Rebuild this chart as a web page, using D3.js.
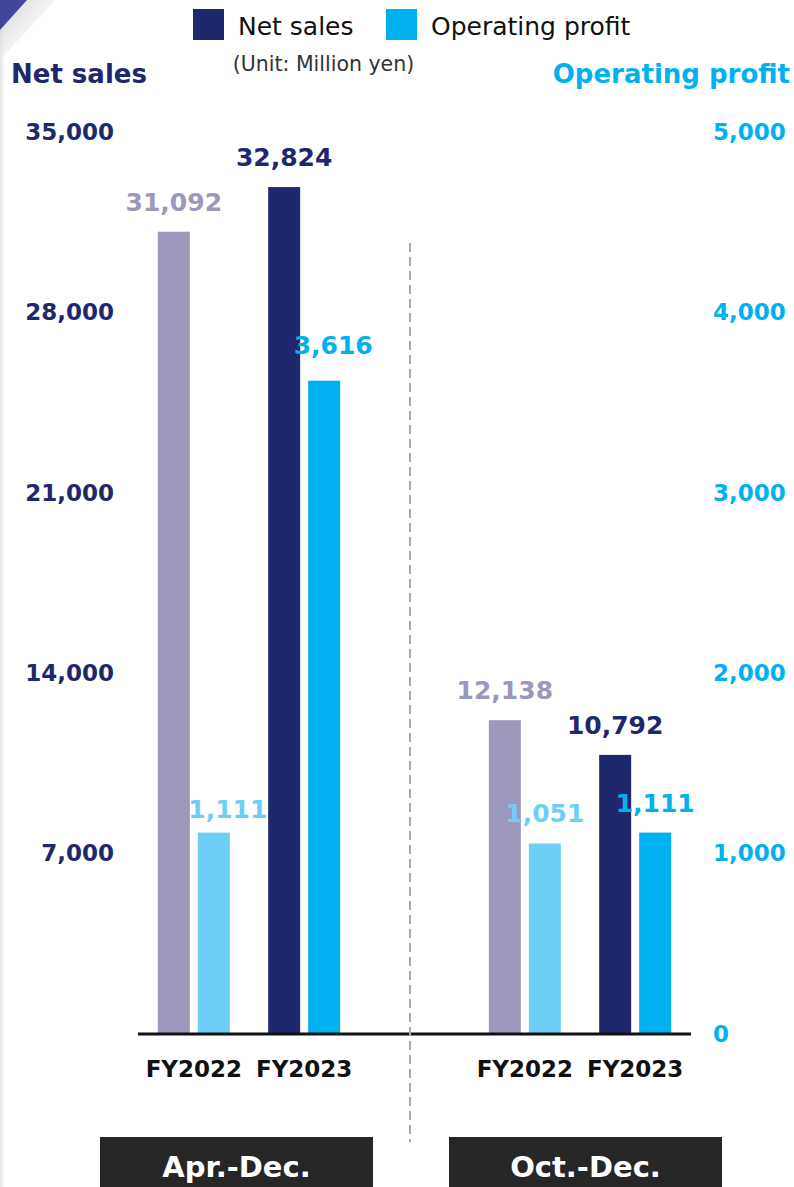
<!DOCTYPE html>
<html>
<head>
<meta charset="utf-8">
<script src="https://cdn.jsdelivr.net/npm/d3@7/dist/d3.min.js"></script>
<style>
  html, body { margin: 0; padding: 0; background: #fff; }
  svg { display: block; font-family: "DejaVu Sans", Verdana, sans-serif; }
</style>
</head>
<body>
<svg id="chart" width="794" height="1187"></svg>
<script>
// Periods, fiscal years and values (million yen)
const periods = ["Apr.-Dec.", "Oct.-Dec."];
const years = ["FY2022", "FY2023"];
const netSales = [[31092, 32824], [12138, 10792]];
const operatingProfit = [[1111, 3616], [1051, 1111]];
const netSalesTicks = [7000, 14000, 21000, 28000, 35000];
const profitTicks = [0, 1000, 2000, 3000, 4000, 5000];

const colors = {
  net: { FY2022: "#9b97bd", FY2023: "#1f276d" },
  op:  { FY2022: "#6ecff6", FY2023: "#00b1ef" }
};
const navy = "#1f276d";
const cyan = "#00b1ef";

const svg = d3.select("#chart");
const W = 794, H = 1187;
const baseY = 1033, topY = 131;

// Page decoration: left edge shade and corner fold
const defs = svg.append("defs");
const edge = defs.append("linearGradient").attr("id", "edge").attr("x1", 0).attr("x2", 1);
edge.append("stop").attr("offset", 0).attr("stop-color", "#e0e0e0");
edge.append("stop").attr("offset", 1).attr("stop-color", "#ffffff").attr("stop-opacity", 0);
svg.append("rect").attr("x", 0).attr("y", 0).attr("width", 7).attr("height", H).attr("fill", "url(#edge)");
const fold = defs.append("linearGradient").attr("id", "fold")
  .attr("x1", 0).attr("y1", 0).attr("x2", 1).attr("y2", 1);
fold.append("stop").attr("offset", 0).attr("stop-color", "#cfcfcf");
fold.append("stop").attr("offset", 1).attr("stop-color", "#ffffff").attr("stop-opacity", 0);
svg.append("path").attr("d", "M27,0 L55,0 L0,60 L0,30 Z").attr("fill", "url(#fold)");
svg.append("path").attr("d", "M0,0 L27,0 L0,30 Z").attr("fill", "#43459a");

// Scales
const x0 = d3.scaleBand().domain(periods).range([83.5, 745.5]).padding(0);
const x1 = d3.scalePoint().domain(years).range([0, x0.bandwidth()]).padding(1);
const xs = d3.scaleBand().domain(["net", "op"]).range([-36, 36]).paddingInner(0.2).paddingOuter(0);
const yNet = d3.scaleLinear().domain([0, 35000]).range([baseY, topY]);
const yOp = d3.scaleLinear().domain([0, 5000]).range([baseY, topY]);
const fmt = d3.format(",");

// Legend
const legend = svg.append("g");
legend.append("rect").attr("x", 193).attr("y", 9).attr("width", 31).attr("height", 31).attr("fill", navy);
legend.append("text").attr("x", 238).attr("y", 35).attr("font-size", 25).attr("fill", "#111").text("Net sales");
legend.append("rect").attr("x", 386).attr("y", 9).attr("width", 31).attr("height", 31).attr("fill", cyan);
legend.append("text").attr("x", 431).attr("y", 35).attr("font-size", 25).attr("fill", "#111").text("Operating profit");
svg.append("text").attr("x", 323.5).attr("y", 71).attr("text-anchor", "middle")
  .attr("font-size", 20.5).attr("fill", "#333").text("(Unit: Million yen)");

// Axis titles
svg.append("text").attr("x", 11).attr("y", 83).attr("font-size", 26).attr("font-weight", "bold")
  .attr("fill", navy).text("Net sales");
svg.append("text").attr("x", 790).attr("y", 83).attr("text-anchor", "end").attr("font-size", 26)
  .attr("font-weight", "bold").attr("fill", cyan).text("Operating profit");

// Left axis (net sales)
const leftAxis = d3.axisLeft(yNet).tickValues(netSalesTicks).tickFormat(fmt).tickSize(0).tickPadding(0);
const gl = svg.append("g").attr("transform", "translate(114,0)").call(leftAxis);
gl.select(".domain").remove();
gl.selectAll("text").attr("font-size", 23).attr("font-weight", "bold").attr("fill", navy)
  .attr("font-family", "DejaVu Sans").attr("dy", "0.36em");

// Right axis (operating profit)
const rightAxis = d3.axisRight(yOp).tickValues(profitTicks).tickFormat(fmt).tickSize(0).tickPadding(0);
const gr = svg.append("g").attr("transform", "translate(713,0)").call(rightAxis);
gr.select(".domain").remove();
gr.selectAll("text").attr("font-size", 23).attr("font-weight", "bold").attr("fill", cyan)
  .attr("font-family", "DejaVu Sans").attr("dy", "0.36em");

// Bars and value labels
const rows = [];
periods.forEach((p, i) => {
  years.forEach((yr, j) => {
    rows.push({ period: p, year: yr, series: "net", value: netSales[i][j] });
    rows.push({ period: p, year: yr, series: "op", value: operatingProfit[i][j] });
  });
});
const cx = d => x0(d.period) + x1(d.year) + xs(d.series);
const yOf = d => d.series === "net" ? yNet(d.value) : yOp(d.value);

svg.append("g").selectAll("rect").data(rows).join("rect")
  .attr("x", cx)
  .attr("y", yOf)
  .attr("width", xs.bandwidth())
  .attr("height", d => baseY - yOf(d))
  .attr("fill", d => colors[d.series][d.year]);

// Label nudges keep the two first-period profit labels clear of neighbouring bars
const nudge = d => (d.period === "Apr.-Dec." && d.series === "op")
  ? (d.year === "FY2022" ? [14, 6] : [9, -6]) : [0, 0];
svg.append("g").selectAll("text").data(rows).join("text")
  .attr("x", d => cx(d) + xs.bandwidth() / 2 + nudge(d)[0])
  .attr("y", d => yOf(d) - 21 + nudge(d)[1])
  .attr("text-anchor", "middle")
  .attr("font-size", 25).attr("font-weight", "bold")
  .attr("fill", d => colors[d.series][d.year])
  .text(d => fmt(d.value));

// Baseline
svg.append("line").attr("x1", 138).attr("x2", 691).attr("y1", baseY + 1).attr("y2", baseY + 1)
  .attr("stroke", "#111").attr("stroke-width", 3);

// Divider between periods
svg.append("line").attr("x1", 410).attr("x2", 410).attr("y1", 243).attr("y2", 1142)
  .attr("stroke", "#aaaaaa").attr("stroke-width", 2).attr("stroke-dasharray", "9,5");

// Year labels
const yearLabels = [];
periods.forEach(p => years.forEach(yr => yearLabels.push({ period: p, year: yr })));
svg.append("g").selectAll("text").data(yearLabels).join("text")
  .attr("x", d => x0(d.period) + x1(d.year))
  .attr("y", 1077)
  .attr("text-anchor", "middle")
  .attr("font-size", 23).attr("font-weight", "bold").attr("fill", "#111")
  .text(d => d.year);

// Period boxes
const boxes = [{ label: periods[0], x: 100 }, { label: periods[1], x: 449 }];
const bg = svg.append("g").selectAll("g").data(boxes).join("g");
bg.append("rect").attr("x", d => d.x).attr("y", 1137).attr("width", 273).attr("height", 52).attr("fill", "#262626");
bg.append("text").attr("x", d => d.x + 136.5).attr("y", 1177).attr("text-anchor", "middle")
  .attr("font-size", 29).attr("font-weight", "bold").attr("fill", "#fff").text(d => d.label);
</script>
</body>
</html>
